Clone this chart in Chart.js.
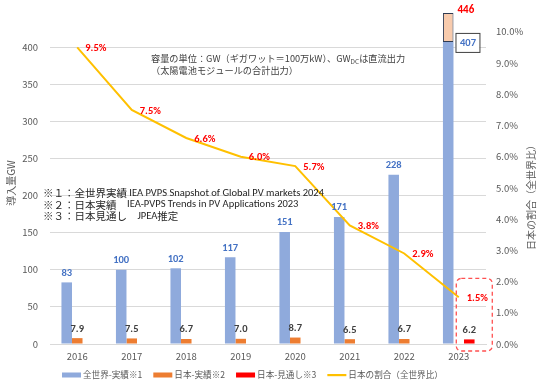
<!DOCTYPE html>
<html><head><meta charset="utf-8">
<script src="https://cdn.jsdelivr.net/npm/chart.js@4.4.1/dist/chart.umd.min.js"></script>
<style>html,body{margin:0;padding:0;background:#fff}#wrap{width:544px;height:388px}</style>
</head><body><div id="wrap"><canvas id="c" width="544" height="388"></canvas></div>
<script>
const years = ['2016','2017','2018','2019','2020','2021','2022','2023'];
const worldActual = [83,100,102,117,151,171,228,407];
const worldForecastTotal = [null,null,null,null,null,null,null,446];
const japanActual = [7.9,7.5,6.7,7.0,8.7,6.5,6.7,null];
const japanForecast = [null,null,null,null,null,null,null,6.2];
const japanShare = [9.5,7.5,6.6,6.0,5.7,3.8,2.9,1.5];
const leftTicks = [0,50,100,150,200,250,300,350,400];
const rightTicks = [0,1,2,3,4,5,6,7,8,9,10];
const seriesNames = ['全世界-実績※1','日本-実績※2','日本-見通し※3','全世界-見通し','日本の割合（全世界比）'];
const leftTitle = '導入量GW';
const rightTitle = '日本の割合（全世界比）';
const noteLine1 = ['容量の単位：GW（ギガワット＝100万kW）、GW','DC','は直流出力'];
const noteLine2 = '（太陽電池モジュールの合計出力）';
const footnotes = [
  ['※１：全世界実績 ','IEA PVPS Snapshot of Global PV markets 2024'],
  ['※２：日本実績　','IEA-PVPS Trends in PV Applications 2023'],
  ['※３：日本見通し　','JPEA','推定']
];
const worldExtra = worldForecastTotal.map((v,i)=> v==null ? null : v - worldActual[i]);

const JP = "'Noto Sans CJK JP'";
const LAT = "Carlito, Lato, 'Noto Sans CJK JP'";
const GRID = '#D9D9D9';
const TXT = '#595959';

const extras = {
  id:'extras',
  afterDatasetsDraw(chart){
    const ctx = chart.ctx;
    const ca = chart.chartArea;
    const y1 = chart.scales.y1;
    ctx.save();
    // blue labels
    const mB = chart.getDatasetMeta(0);
    mB.data.forEach((el,i)=>{
      const v = worldActual[i]; if(v==null) return;
      ctx.font = "bold 10.5px " + LAT;
      ctx.fillStyle = '#4472C4';
      if(worldForecastTotal[i]!=null){
        const t = String(v);
        const w = ctx.measureText(t).width + 8;
        const bx = el.x + el.width/2 + 2, by = el.y - 9;
        ctx.fillStyle='#fff'; ctx.fillRect(bx,by,w,19);
        ctx.strokeStyle='#404040'; ctx.lineWidth=1; ctx.strokeRect(bx+0.5,by+0.5,w,19);
        ctx.fillStyle='#4472C4'; ctx.textAlign='left'; ctx.textBaseline='middle';
        ctx.fillText(t,bx+4.5,by+10);
      } else {
        ctx.textAlign='center'; ctx.textBaseline='bottom';
        ctx.fillText(String(v), el.x, el.y-4);
      }
    });
    // peach total label
    const mP = chart.getDatasetMeta(3);
    mP.data.forEach((el,i)=>{
      const v = worldForecastTotal[i]; if(v==null) return;
      ctx.font = "bold 11px " + LAT; ctx.fillStyle='#FF0000';
      ctx.textAlign='left'; ctx.textBaseline='middle';
      ctx.fillText(String(v), el.x + el.width/2 + 4, el.y - 3);
    });
    // orange & red labels
    [[1,japanActual],[2,japanForecast]].forEach(([di,arr])=>{
      const m = chart.getDatasetMeta(di);
      m.data.forEach((el,i)=>{
        const v = arr[i]; if(v==null) return;
        ctx.font = "bold 10.5px " + LAT; ctx.fillStyle='#404040';
        ctx.textAlign='center'; ctx.textBaseline='bottom';
        ctx.fillText(v.toFixed(1), el.x, el.y-4);
      });
    });
    // share labels
    const mL = chart.getDatasetMeta(4);
    mL.data.forEach((el,i)=>{
      const v = japanShare[i];
      ctx.font = "bold 10.5px " + LAT; ctx.fillStyle='#FF0000';
      ctx.textAlign='left'; ctx.textBaseline='middle';
      ctx.fillText(v.toFixed(1)+'%', el.x+8, el.y+1);
    });
    // dashed box around forecast
    const mR = chart.getDatasetMeta(2);
    const last = mR.data[mR.data.length-1];
    const bx0 = last.x - 13, bx1 = last.x + 23;
    const by0 = y1.getPixelForValue(2.1), by1 = ca.bottom + 7;
    ctx.setLineDash([4,3]); ctx.strokeStyle='#FF5050'; ctx.lineWidth=1.3;
    ctx.beginPath(); ctx.roundRect(bx0,by0,bx1-bx0,by1-by0,5); ctx.stroke();
    ctx.setLineDash([]);
    // axis titles
    ctx.fillStyle=TXT; ctx.font = "10px " + JP; ctx.textAlign='center'; ctx.textBaseline='middle';
    ctx.save(); ctx.translate(11,183); ctx.rotate(-Math.PI/2); ctx.fillText(leftTitle,0,0); ctx.restore();
    ctx.save(); ctx.translate(531,195); ctx.rotate(-Math.PI/2); ctx.fillText(rightTitle,0,0); ctx.restore();
    // unit note
    ctx.fillStyle='#404040'; ctx.textAlign='left'; ctx.textBaseline='middle';
    let x = 151; const ny = 59;
    ctx.font = "9.2px " + JP; ctx.fillText(noteLine1[0],x,ny); x += ctx.measureText(noteLine1[0]).width;
    ctx.font = "6.5px " + JP; ctx.fillText(noteLine1[1],x,ny+3); x += ctx.measureText(noteLine1[1]).width;
    ctx.font = "9.2px " + JP; ctx.fillText(noteLine1[2],x,ny);
    ctx.fillText(noteLine2,151,71);
    // footnotes
    ctx.fillStyle='#262626';
    footnotes.forEach((parts,k)=>{
      let fx = 43; const fy = 193 + k*11.7;
      parts.forEach((p)=>{
        const isJp = /[^\x00-\x7F]/.test(p);
        ctx.font = isJp ? "10.5px " + JP : "10.5px " + LAT;
        ctx.fillText(p,fx,fy); fx += ctx.measureText(p).width;
      });
    });
    // legend (drawn from the datasets)
    const items = chart.data.datasets.map((d,i)=>({d,i})).filter(o=>o.i!==3);
    let lx = 62; const ly = 375;
    ctx.font = "8.6px " + JP; ctx.textBaseline='middle'; ctx.textAlign='left';
    items.forEach(({d})=>{
      ctx.fillStyle = d.type==='line' ? d.borderColor : d.backgroundColor;
      if(d.type==='line'){ ctx.fillRect(lx, ly-1, 19, 2.2); }
      else { ctx.fillRect(lx, ly-2.5, 19, 5); }
      ctx.fillStyle = TXT;
      ctx.fillText(d.label, lx+21, ly);
      lx += 21 + ctx.measureText(d.label).width + 11;
    });
    ctx.restore();
  }
};

new Chart(document.getElementById('c'), {
  data: {
    labels: years,
    datasets: [
      {type:'bar', label: seriesNames[0], data: worldActual, backgroundColor:'#8FAADC', stack:'w', yAxisID:'y', order:1},
      {type:'bar', label: seriesNames[1], data: japanActual, backgroundColor:'#ED7D31', stack:'j', yAxisID:'y', order:1},
      {type:'bar', label: seriesNames[2], data: japanForecast, backgroundColor:'#FF0000', stack:'f', yAxisID:'y', order:1},
      {type:'bar', label: seriesNames[3], data: worldExtra, backgroundColor:'#F8CBAD', borderColor:'#2F3B52', borderWidth:1, borderSkipped:false, stack:'w', yAxisID:'y', order:1},
      {type:'line', label: seriesNames[4], data: japanShare, borderColor:'#FFC000', backgroundColor:'#FFC000', borderWidth:2, pointRadius:0, tension:0, yAxisID:'y1', order:0}
    ]
  },
  options: {
    responsive:false, animation:false, devicePixelRatio:1,
    categoryPercentage:0.58, barPercentage:1.0,
    layout:{padding:{top:10,left:0,right:0,bottom:0}},
    plugins:{ legend:{display:false}, tooltip:{enabled:false} },
    scales:{
      x:{grid:{display:false, drawTicks:false}, border:{display:true,color:GRID},
        afterFit:s=>{s.height=44; s.paddingLeft=0; s.paddingRight=0;},
        ticks:{color:TXT, font:{size:9.5,family:JP}, padding:7}},
      y:{stacked:true, position:'left', min:0, max:450,
        afterBuildTicks:s=>{s.ticks = leftTicks.map(v=>({value:v}));},
        afterFit:s=>{s.width=50; s.paddingTop=0; s.paddingBottom=0;},
        ticks:{color:TXT, font:{size:9.5,family:JP}, padding:12},
        grid:{color:GRID, drawTicks:false}, border:{display:false}},
      y1:{position:'right', min:0, max:10.7,
        afterBuildTicks:s=>{s.ticks = rightTicks.map(v=>({value:v}));},
        afterFit:s=>{s.width=58; s.paddingTop=0; s.paddingBottom=0;},
        ticks:{color:TXT, font:{size:9.5,family:JP}, padding:10, callback:v=>Number(v).toFixed(1)+'%'},
        grid:{display:false, drawTicks:false}, border:{display:false}}
    }
  },
  plugins:[extras]
});
</script></body></html>
